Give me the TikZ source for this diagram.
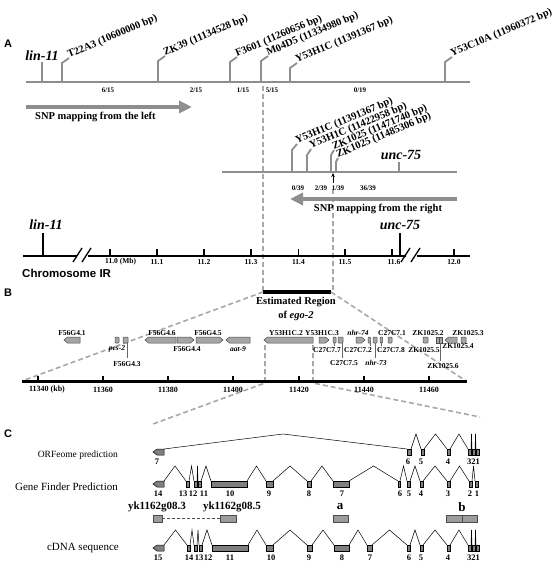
\documentclass[tikz,border=0pt]{standalone}
\usepackage{fontspec}
\setmainfont{Liberation Serif}
\setsansfont{Liberation Sans}
\usetikzlibrary{arrows.meta}
\definecolor{lgray}{HTML}{8E8E8E}
\definecolor{dgray}{HTML}{A8A8A8}
\definecolor{exgray}{HTML}{7F7F7F}
\definecolor{ggray}{HTML}{A5A5A5}
\definecolor{ykgray}{HTML}{9C9C9C}
\begin{document}
\begin{tikzpicture}[x=1pt,y=-1pt,
  gl/.style={draw=lgray,line width=2},
  mk/.style={font=\bfseries\fontsize{10.5}{11}\selectfont,rotate=23,anchor=base west,inner sep=0},
  frac/.style={font=\bfseries\fontsize{7}{8}\selectfont,inner sep=0},
  axl/.style={font=\bfseries\fontsize{7.5}{8}\selectfont,inner sep=0},
  gname/.style={font=\bfseries\itshape\fontsize{14}{14}\selectfont,inner sep=0,anchor=base},
  snp/.style={draw=lgray,line width=3.5,-{Triangle[length=13,width=12]}},
  snpt/.style={font=\bfseries\fontsize{10.5}{11}\selectfont,inner sep=0},
  zoomd/.style={draw=dgray,line width=1.6,dash pattern=on 5 off 3},
  panel/.style={font=\sffamily\bfseries\fontsize{11}{11}\selectfont,inner sep=0},
  gbox/.style={draw=black!70,fill=ggray,line width=0.5},
  glab/.style={font=\bfseries\fontsize{7.5}{8}\selectfont,inner sep=0},
  conn/.style={draw=black!60,line width=0.4},
  exon/.style={draw=black,fill=exgray,line width=0.5},
  intr/.style={draw=black,line width=0.5},
  enum/.style={font=\bfseries\fontsize{8.5}{9}\selectfont,inner sep=0},
  rowl/.style={font=\fontsize{11}{11}\selectfont,inner sep=0,anchor=east},
  ykl/.style={font=\bfseries\fontsize{11}{11}\selectfont,inner sep=0},
  ykb/.style={draw=black!70,fill=ykgray,line width=0.5}
]
\useasboundingbox (0,0) rectangle (558,562);

% ---------------- Panel A ----------------
\node[panel] (pA) at (8,44) {A};
\draw[zoomd] (263,86) -- (263,292);
\draw[zoomd] (333,189) -- (333,292);

\draw[gl] (26,82) coordinate (la) -- (470,82) coordinate (lb);
\draw[gl] (42,82) -- (42,62);
\node[gname] (lin1) at (42,60) {lin-11};
\foreach \x/\t/\lab/\n in {62/63/T22A3 (10600000 bp)/a1,158/61/ZK39 (11134528 bp)/a2,230/62/F3601 (11260656 bp)/a3,261/61/M04D5 (11334980 bp)/a4,290/68/Y53H1C (11391367 bp)/a5,445/62/Y53C10A (11960372 bp)/a6}{
  \draw[gl,line width=1.8] (\x,82) -- (\x,\t) -- ++(7,-5) coordinate (c\n);
  \node[mk] (m\n) at (c\n) {\lab};
}
\foreach \x/\lab/\n in {108/6{/}15/f1,196/2{/}15/f2,243/1{/}15/f3,272/5{/}15/f4,360/0{/}19/f5}{
  \node[frac] (\n) at (\x,90) {\lab};
}
\coordinate (sl0) at (26,107);
\coordinate (sl1) at (192,107);
\draw[snp] (sl0) -- (sl1);
\node[snpt,anchor=west] (snpl) at (35,117) {SNP mapping from the left};

% right mapping line
\draw[gl] (222,172) -- (457,172);
\foreach \x/\t/\ex/\ey/\lab/\n in {292/150/297/144/Y53H1C (11391367 bp)/b1,307/155/311/149/Y53H1C (11422958 bp)/b2,331/155/334/150/ZK1025 (11471740 bp)/b3,336/162/338/158/ZK1025 (11485306 bp)/b4}{
  \draw[gl,line width=1.8] (\x,172) -- (\x,\t) -- (\ex,\ey) coordinate (c\n);
  \node[mk] (m\n) at (c\n) {\lab};
}
\draw[gl] (399,172) -- (399,162);
\node[gname] (unc1) at (401,159) {\textit{unc}-75};
\coordinate (ua0) at (333,183);
\coordinate (ua1) at (333,173);
\draw[black,line width=0.8,-{Stealth[length=4,width=3.5]}] (ua0) -- (ua1);
\foreach \x/\lab/\n in {298/0{/}39/g1,321/2{/}39/g2,338/1{/}39/g3,368/36{/}39/g4}{
  \node[frac] (\n) at (\x,188) {\lab};
}
\coordinate (sr0) at (457,199);
\coordinate (sr1) at (290,199);
\draw[snp] (sr0) -- (sr1);
\node[snpt] (snpr) at (378,209) {SNP mapping from the right};

% chromosome
\draw[black,line width=2] (23,255.5) -- (470,255.5);
\fill[white] (77,250) rectangle (88,261);
\fill[white] (406,250) rectangle (417,261);
\foreach \x in {78,87,406,416}{
  \draw[black,line width=1.3] (\x-5,262) -- (\x+4,248);
}
\draw[black,line width=2] (43,255.5) -- (43,233);
\node[gname] (lin2) at (46,229) {lin-11};
\draw[black,line width=2] (399.5,255.5) -- (399.5,233);
\node[gname] (unc2) at (400,229) {\textit{unc}-75};
\foreach \x in {110,157,204,251,298.5,345,392,454}{
  \draw[black,line width=1.2] (\x,255.5) -- (\x,248.5);
}
\node[axl,anchor=west] (t0) at (105,262) {11.0 (Mb)};
\foreach \x/\lab/\n in {157/11.1/t1,204/11.2/t2,251/11.3/t3,298.5/11.4/t4,345/11.5/t5,394/11.6/t6,454/12.0/t7}{
  \node[axl] (\n) at (\x,262) {\lab};
}
\node[font=\sffamily\bfseries\fontsize{11.5}{12}\selectfont,inner sep=0,anchor=west] (chr) at (22,273.5) {Chromosome IR};

% ---------------- Panel B ----------------
\node[panel] (pB) at (8,293) {B};
\draw[black,line width=4] (263,292) coordinate (ra) -- (331,292) coordinate (rb);
\node[snpt] (est1) at (296,302) {Estimated Region};
\node[snpt] (est2) at (296,315.5) {of \textit{ego-2}};
\draw[zoomd] (ra) -- (22,381);
\draw[zoomd] (rb) -- (466,381);
\draw[zoomd] (265,345) -- (265,383) -- (153,424);
\draw[zoomd] (313,345) -- (313,383) -- (480,417);

\draw[black,line width=2.2] (22,381.5) -- (467,381.5);
\foreach \x in {38,103,168,233,299,364,429}{
  \draw[black,line width=1.3] (\x,381.5) -- (\x,376);
}
\node[axl,font=\bfseries\fontsize{8}{8}\selectfont] (k0) at (47,389.5) {11340 (kb)};
\foreach \x/\lab/\n in {103/11360/k1,168/11380/k2,233/11400/k3,299/11420/k4,364/11440/k5,429/11460/k6}{
  \node[axl,font=\bfseries\fontsize{8}{8}\selectfont] (\n) at (\x,389.5) {\lab};
}
% genes: left-pointing
\foreach \a/\b in {64/80,145/176,226/250,264/313,445/457}{
  \draw[gbox] (\a,340) -- (\a+3.5,337) -- (\b,337) -- (\b,343) -- (\a+3.5,343) -- cycle;
}
% right-pointing
\foreach \a/\b in {177/194,196/223,319/329,356/365}{
  \draw[gbox] (\a,337) -- (\b-3.5,337) -- (\b,340) -- (\b-3.5,343) -- (\a,343) -- cycle;
}
% small boxes
\foreach \a/\b in {115/119,123/128,333/336,338/343,368/370.5,373/377,380/382.5,388/392,423/428,461/466}{
  \draw[gbox,rounded corners=0.8] (\a,337) rectangle (\b,343);
}
\draw[gbox] (436,337) rectangle (439,343);
\draw[gbox] (439,337) rectangle (442,343);
% connectors
\draw[conn] (127,343) -- (127,358);
\draw[conn] (334,343) -- (334,346);
\draw[conn] (342,343) -- (342,358);
\draw[conn] (370,343) -- (370,346);
\draw[conn] (375,343) -- (375,358);
\draw[conn] (381,343) -- (381,346);
\draw[conn] (440,343) -- (440,361);
% labels above
\foreach \x/\lab/\n in {72/F56G4.1/u1,162/F56G4.6/u2,208/F56G4.5/u3,286/Y53H1C.2/u4,322/Y53H1C.3/u5,392/C27C7.1/u7,428/ZK1025.2/u8,468/ZK1025.3/u9}{
  \node[glab] (\n) at (\x,333) {\lab};
}
\node[glab,font=\bfseries\itshape\fontsize{7.5}{8}\selectfont] (u6) at (358,333) {nhr-74};
% labels below
\node[glab,font=\bfseries\itshape\fontsize{7.5}{8}\selectfont] (d1) at (117,349) {pes-2};
\node[glab,font=\bfseries\itshape\fontsize{7.5}{8}\selectfont] (d3) at (238,349) {aat-9};
\foreach \x/\y/\lab/\n in {187/349/F56G4.4/d2,327/350/C27C7.7/d4,358/350/C27C7.2/d5,391/350/C27C7.8/d6,424/350/ZK1025.5/d7,458/346/ZK1025.4/d8,127/364/F56G4.3/e1,344/363/C27C7.5/e2,443/366/ZK1025.6/e4}{
  \node[glab] (\n) at (\x,\y) {\lab};
}
\node[glab,font=\bfseries\itshape\fontsize{7.5}{8}\selectfont] (e3) at (376,363) {nhr-73};

% ---------------- Panel C ----------------
\node[panel] (pC) at (8,434) {C};
\node[rowl,font=\fontsize{9.5}{10}\selectfont] (r1) at (118,455) {ORFeome prediction};
\node[rowl] (r2) at (118,487) {Gene Finder Prediction};
\node[rowl] (r3) at (119,548) {cDNA sequence};

% ORFeome
\draw[intr] (164,449) -- (283,434) -- (407,449);
\foreach \a/\b in {411/421,424/447,450/468,471/472,475/476}{
  \draw[intr] (\a,449) -- ({(\a+\b)/2},434) -- (\b,449);
}
\draw[exon] (153,452) -- (157,449) -- (164,449) -- (164,455) -- (157,455) -- cycle;
\foreach \a/\b in {407/411,421/424,447/450,468/471,472/475,476/479}{
  \draw[exon] (\a,449) rectangle (\b,455);
}
\foreach \x/\lab/\n in {157/7/o7,408/6/o6,421/5/o5,448/4/o4,473.5/321/o1}{
  \node[enum] (\n) at (\x,462) {\lab};
}

% Gene finder
\foreach \a/\b in {164/186,189/194,197/198,201/211,247/266,273/307,311/333,349/398,400/407,410/420,423/447,450/469,472/475}{
  \draw[intr] (\a,481) -- ({(\a+\b)/2},466) -- (\b,481);
}
\draw[exon] (153,484) -- (157,481) -- (164,481) -- (164,487) -- (157,487) -- cycle;
\foreach \a/\b in {186/189,194/197,198/201,211/247,266/273,307/311,333/349,398/400,407/410,420/423,447/450,469/472,475/478}{
  \draw[exon] (\a,481) rectangle (\b,487);
}
\foreach \x/\lab/\n in {158/14/g14,183/13/g13,193/12/g12,204/11/g11,230/10/g10,269/9/g9,309/8/g8,342/7/g7,400/6/g6,409/5/g5,421/4/g4,448/3/g3,470/2/g2,477/1/g1}{
  \node[enum] (n\n) at (\x,493.5) {\lab};
}

% yk / a / b
\node[ykl] (y3) at (157,507) {yk1162g08.3};
\node[ykl] (y5) at (232,507) {yk1162g08.5};
\node[ykl,font=\bfseries\fontsize{13}{13}\selectfont] (la) at (340,507) {a};
\node[ykl,font=\bfseries\fontsize{13}{13}\selectfont] (lb) at (462,507) {b};
\draw[ykb] (153,515) rectangle (162,522);
\draw[ykb] (220,515) rectangle (236,522);
\draw[black!70,line width=0.6,dash pattern=on 3 off 2] (162,518.5) -- (220,518.5);
\draw[ykb] (333,515) rectangle (348,522);
\draw[ykb] (446,515) rectangle (462,522);
\draw[ykb] (462,515) rectangle (477,522);

% cDNA
\foreach \a/\b in {164/187,190/194,197/199,202/212,248/266,273/307,312/334,349/367,372/407,410/420,423/447,450/468,471/472,475/476}{
  \draw[intr] (\a,545) -- ({(\a+\b)/2},530) -- (\b,545);
}
\draw[exon] (153,548) -- (157,545) -- (164,545) -- (164,551) -- (157,551) -- cycle;
\foreach \a/\b in {187/190,194/197,199/202,212/248,266/273,307/312,334/349,367/372,407/410,420/423,447/450,468/471,472/475,476/479}{
  \draw[exon] (\a,545) rectangle (\b,551);
}
\foreach \x/\lab/\n in {158/15/c15,189/14/c14,199/13/c13,208/12/c12,230/11/c11,271/10/c10,309/9/c9,342/8/c8,370/7/c7,409/6/c6,421/5/c5,448/4/c4,473.5/321/c1}{
  \node[enum] (n\n) at (\x,557.5) {\lab};
}
\end{tikzpicture}
\end{document}
